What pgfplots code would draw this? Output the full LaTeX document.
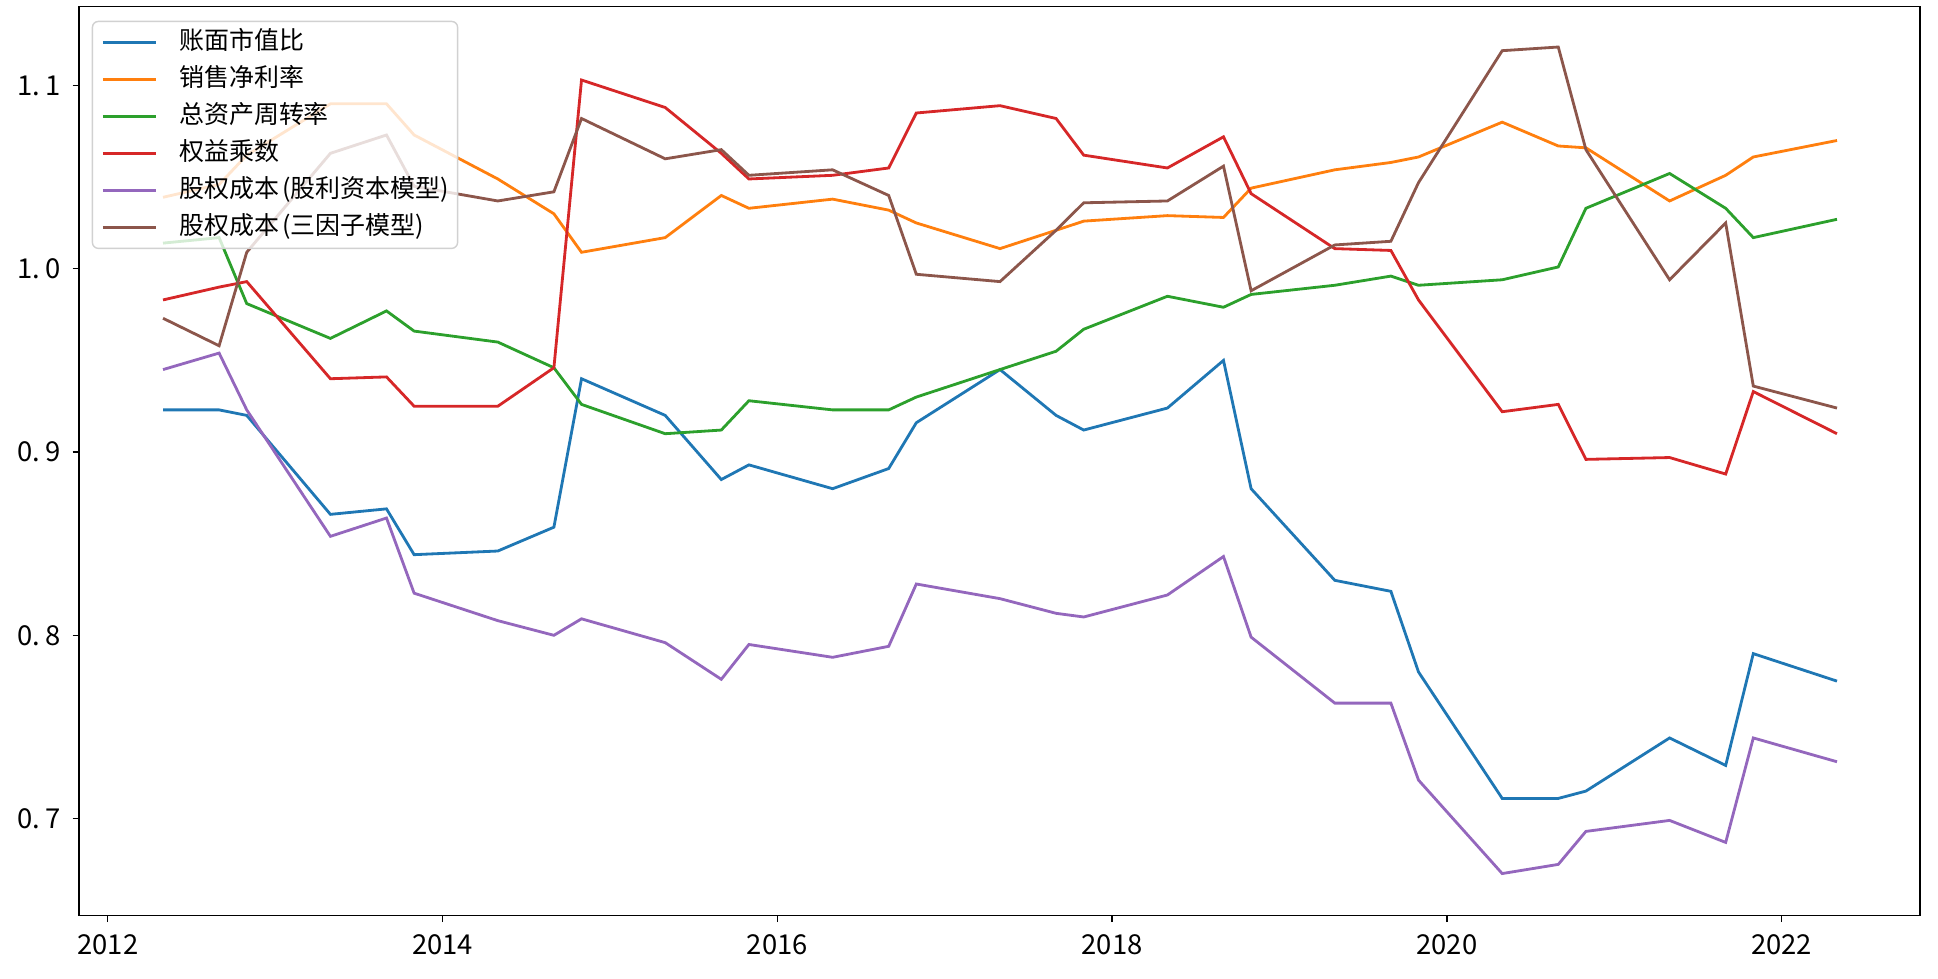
\documentclass[border=0pt]{standalone}
\usepackage{fontspec}
\setmainfont{Noto Sans CJK SC}
\usepackage{pgfplots}
\usepackage{pgfplotstable}
\pgfplotsset{compat=1.18}
\definecolor{cblue}{HTML}{1F77B4}
\definecolor{corange}{HTML}{FF7F0E}
\definecolor{cgreen}{HTML}{2CA02C}
\definecolor{cred}{HTML}{D62728}
\definecolor{cpurple}{HTML}{9467BD}
\definecolor{cbrown}{HTML}{8C564B}
\pgfplotstableread{
x        bm     npm    tat    em     ddm    ff
2012.33  0.923  1.039  1.014  0.983  0.945  0.973
2012.665 0.923  1.046  1.017  0.990  0.954  0.958
2012.83  0.920  1.062  0.981  0.993  0.923  1.009
2013.33  0.866  1.090  0.962  0.940  0.854  1.063
2013.665 0.869  1.090  0.977  0.941  0.864  1.073
2013.83  0.844  1.073  0.966  0.925  0.823  1.045
2014.33  0.846  1.049  0.960  0.925  0.808  1.037
2014.665 0.859  1.030  0.946  0.946  0.800  1.042
2014.83  0.940  1.009  0.926  1.103  0.809  1.082
2015.33  0.920  1.017  0.910  1.088  0.796  1.060
2015.665 0.885  1.040  0.912  1.063  0.776  1.065
2015.83  0.893  1.033  0.928  1.049  0.795  1.051
2016.33  0.880  1.038  0.923  1.051  0.788  1.054
2016.665 0.891  1.032  0.923  1.055  0.794  1.040
2016.83  0.916  1.025  0.930  1.085  0.828  0.997
2017.33  0.945  1.011  0.945  1.089  0.820  0.993
2017.665 0.920  1.021  0.955  1.082  0.812  1.021
2017.83  0.912  1.026  0.967  1.062  0.810  1.036
2018.33  0.924  1.029  0.985  1.055  0.822  1.037
2018.665 0.950  1.028  0.979  1.072  0.843  1.056
2018.83  0.880  1.044  0.986  1.041  0.799  0.988
2019.33  0.830  1.054  0.991  1.011  0.763  1.013
2019.665 0.824  1.058  0.996  1.010  0.763  1.015
2019.83  0.780  1.061  0.991  0.983  0.721  1.047
2020.33  0.711  1.080  0.994  0.922  0.670  1.119
2020.665 0.711  1.067  1.001  0.926  0.675  1.121
2020.83  0.715  1.066  1.033  0.896  0.693  1.065
2021.33  0.744  1.037  1.052  0.897  0.699  0.994
2021.665 0.729  1.051  1.033  0.888  0.687  1.025
2021.83  0.790  1.061  1.017  0.933  0.744  0.936
2022.33  0.775  1.070  1.027  0.910  0.731  0.924
}\datatable
\begin{document}
\begin{tikzpicture}
\useasboundingbox (-7.9mm,-6.23mm) rectangle (185.9mm,91.57mm);
\begin{axis}[
  at={(0,0)}, anchor=south west,
  scale only axis, width=184.1mm, height=90.9mm,
  xmin=2011.828, xmax=2022.826, ymin=0.6470, ymax=1.1430,
  axis line style={line width=0.4pt, black},
  tick align=outside, xtick pos=bottom, ytick pos=left,
  major tick length=0.63mm,
  tick style={line width=0.4pt, black},
  xtick={2012,2014,2016,2018,2020,2022},
  xticklabels={2012,2014,2016,2018,2020,2022},
  ytick={0.7,0.8,0.9,1.0,1.1},
  yticklabels={0.\,7,0.\,8,0.\,9,1.\,0,1.\,1},
  ticklabel style={font=\fontsize{7.8}{9}\selectfont},
  legend style={at={(0,1)}, anchor=north west, xshift=1.27mm, yshift=-1.4mm,
    draw=black!18, rounded corners=0.6mm, fill=white, fill opacity=0.8,
    text opacity=1, draw opacity=1,
    font=\fontsize{7.1}{8}\selectfont,
    inner xsep=0.9mm, inner ysep=0.85mm, row sep=1.2mm, column sep=2.2mm,
    nodes={inner sep=0pt, text height=2.0mm, text depth=0.5mm}},
  legend cell align=left,
  legend image code/.code={\draw[#1] (0mm,0mm) -- (5.3mm,0mm);},
  every axis plot/.append style={line width=0.8pt, mark=none},
]
\addplot[cblue] table[x=x,y=bm]{\datatable};
\addlegendentry{账面市值比}
\addplot[corange] table[x=x,y=npm]{\datatable};
\addlegendentry{销售净利率}
\addplot[cgreen] table[x=x,y=tat]{\datatable};
\addlegendentry{总资产周转率}
\addplot[cred] table[x=x,y=em]{\datatable};
\addlegendentry{权益乘数}
\addplot[cpurple] table[x=x,y=ddm]{\datatable};
\addlegendentry{股权成本\hspace{0.12em}(股利资本模型)\hspace{0.25em}}
\addplot[cbrown] table[x=x,y=ff]{\datatable};
\addlegendentry{股权成本\hspace{0.12em}(三因子模型)}
\end{axis}
\end{tikzpicture}
\end{document}
